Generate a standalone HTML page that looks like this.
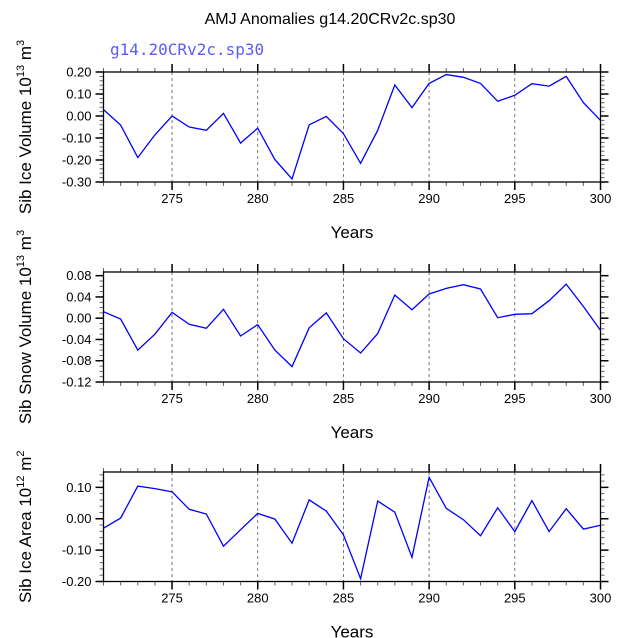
<!DOCTYPE html>
<html><head><meta charset="utf-8"><style>
body{margin:0;background:#fff;}
svg{display:block;font-family:"Liberation Sans",sans-serif;}
</style></head><body>
<svg id="chart" width="638" height="638" viewBox="0 0 638 638" xmlns="http://www.w3.org/2000/svg">
<text x="330" y="24" font-size="16" text-anchor="middle">AMJ Anomalies g14.20CRv2c.sp30</text>
<text x="110" y="55" font-size="16" fill="#5b5bff" font-family="'DejaVu Sans Mono','Liberation Mono',monospace">g14.20CRv2c.sp30</text>
</svg>
<script>
const years = [271,272,273,274,275,276,277,278,279,280,281,282,283,284,285,286,287,288,289,290,291,292,293,294,295,296,297,298,299,300];
const iceVolume = [0.029,-0.041,-0.189,-0.086,0.0,-0.05,-0.065,0.012,-0.123,-0.055,-0.198,-0.286,-0.04,-0.002,-0.08,-0.215,-0.065,0.141,0.038,0.148,0.188,0.176,0.148,0.067,0.094,0.147,0.136,0.18,0.061,-0.02];
const snowVolume = [0.0123,-0.0015,-0.060,-0.030,0.011,-0.0115,-0.019,0.0167,-0.0335,-0.012,-0.060,-0.091,-0.018,0.010,-0.0385,-0.0655,-0.029,0.0436,0.016,0.0455,0.056,0.063,0.055,0.001,0.0073,0.0085,0.033,0.064,0.022,-0.023];
const iceArea = [-0.030,0.002,0.104,0.096,0.086,0.030,0.015,-0.0875,-0.035,0.017,-0.001,-0.078,0.060,0.0245,-0.051,-0.191,0.0566,0.021,-0.123,0.132,0.033,-0.003,-0.054,0.035,-0.041,0.058,-0.041,0.032,-0.033,-0.021];
const xTicks = [275,280,285,290,295,300];
const ticks1 = ["0.20","0.10","0.00","-0.10","-0.20","-0.30"];
const ticks2 = ["0.08","0.04","0.00","-0.04","-0.08","-0.12"];
const ticks3 = ["0.10","0.00","-0.10","-0.20"];

const NS="http://www.w3.org/2000/svg";
const svg=document.getElementById('chart');
function mk(tag,attrs,parent){const e=document.createElementNS(NS,tag);for(const k in attrs)e.setAttribute(k,attrs[k]);(parent||svg).appendChild(e);return e;}

const X0=103.5,X1=600.5;
function xs(v){return X0+(v-271)/(300-271)*(X1-X0);}

function panel(name,top,bot,ymin,ymax,labels,minorStep,data,titleParts){
  const g=mk('g',{});
  
  
  const ys=v=>bot-(v-ymin)/(ymax-ymin)*(bot-top);
  xTicks.slice(0,5).forEach(t=>{
    const l=mk('line',{x1:xs(t),x2:xs(t),y1:top,y2:bot,stroke:'#555','stroke-width':0.8,'stroke-dasharray':'3,3'},g);
    
    
  });
  for(let y=271;y<=300;y++){
    const major=y%5===0;const len=major?8:4;
    mk('line',{x1:xs(y),x2:xs(y),y1:bot,y2:bot+len,stroke:major?'#000':'#666','stroke-width':major?1.5:1},g);
    mk('line',{x1:xs(y),x2:xs(y),y1:top,y2:top-len,stroke:major?'#000':'#666','stroke-width':major?1.5:1},g);
  }
  xTicks.forEach(t=>{
    const tx=mk('text',{x:xs(t),y:bot+21,'font-size':13,'text-anchor':'middle'},g);tx.textContent=t;
    
    
  });
  const n=Math.round((ymax-ymin)/minorStep);
  const majorVals=labels.map(Number);
  for(let i=0;i<=n+1;i++){
    const v=ymin+i*minorStep; if(v>ymax+1e-9)break;
    const major=majorVals.some(m=>Math.abs(m-v)<1e-6);const len=major?8:4;
    mk('line',{x1:X0-len,x2:X0,y1:ys(v),y2:ys(v),stroke:major?'#000':'#666','stroke-width':major?1.5:1},g);
    mk('line',{x1:X1,x2:X1+len,y1:ys(v),y2:ys(v),stroke:major?'#000':'#666','stroke-width':major?1.5:1},g);
  }
  labels.forEach(s=>{
    const tx=mk('text',{x:X0-12,y:ys(Number(s))+4.5,'font-size':13,'text-anchor':'end'},g);tx.textContent=s;
    
    
  });
  const pts=data.map((v,i)=>xs(years[i]).toFixed(1)+','+ys(v).toFixed(1)).join(' ');
  const pl=mk('polyline',{points:pts,fill:'none',stroke:'#0000ff','stroke-width':1.3},g);
  
  
  const r=mk('rect',{x:X0,y:top,width:X1-X0,height:bot-top,fill:'none',stroke:'#000','stroke-width':1.3},g);
  
  
  const xt=mk('text',{x:352,y:bot+56,'font-size':17,'text-anchor':'middle'},g);xt.textContent='Years';
  
  
  const cy=(top+bot)/2;
  const yt=mk('text',{x:0,y:0,'font-size':17,'text-anchor':'middle',transform:`translate(31,${cy}) rotate(-90)`},g);
  
  
  const t1=mk('tspan',{},yt);t1.textContent=titleParts[0];
  const t2=mk('tspan',{'font-size':11,dy:-7},yt);t2.textContent=titleParts[1];
  const t3=mk('tspan',{dy:7},yt);t3.textContent=' m';
  const t4=mk('tspan',{'font-size':11,dy:-7},yt);t4.textContent=titleParts[2];
}
panel('ice-volume',72,182,-0.30,0.20,ticks1,0.02,iceVolume,['Sib Ice Volume 10','13','3']);
panel('snow-volume',272,382,-0.12,0.0869,ticks2,0.01,snowVolume,['Sib Snow Volume 10','13','3']);
panel('ice-area',472,581.5,-0.20,0.149,ticks3,0.02,iceArea,['Sib Ice Area 10','12','2']);
</script>
</body></html>
